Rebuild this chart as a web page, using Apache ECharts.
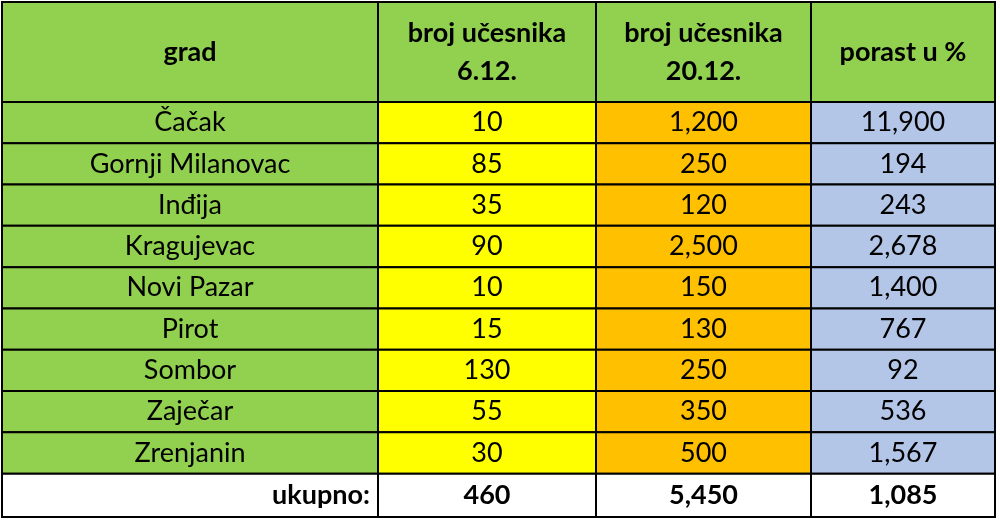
<!DOCTYPE html>
<html lang="sr">
<head>
<meta charset="UTF-8">
<title>broj učesnika</title>
<script src="https://cdn.jsdelivr.net/npm/echarts@6/dist/echarts.min.js"></script>
<style>html,body{margin:0;background:#fff}</style>
</head>
<body>
<div id="main" style="width:1000px;height:524px;"></div>
<script>
// podaci
var headers = ['grad', 'broj učesnika\n6.12.', 'broj učesnika\n20.12.', 'porast u %'];
var cities = ['Čačak', 'Gornji Milanovac', 'Inđija', 'Kragujevac', 'Novi Pazar', 'Pirot', 'Sombor', 'Zaječar', 'Zrenjanin'];
var before = [10, 85, 35, 90, 10, 15, 130, 55, 30];
var after = [1200, 250, 120, 2500, 150, 130, 250, 350, 500];
var growth = [11900, 194, 243, 2678, 1400, 767, 92, 536, 1567];
var totals = ['ukupno:', 460, 5450, 1085];

// raspored
var colEdges = [0, 376, 594, 809, 993];
var headerH = 2.42;
var colColors = ['#92d050', '#ffff00', '#ffc000', '#b4c6e7'];

function fmt(v) { return typeof v === 'number' ? v.toLocaleString('en-US') : v; }

var cells = [];
headers.forEach(function (h, c) {
    cells.push([c, 0, headerH, h, '#92d050', 'bold', 'center']);
});
cities.forEach(function (name, r) {
    var y0 = headerH + r;
    [name, before[r], after[r], growth[r]].forEach(function (v, c) {
        cells.push([c, y0, y0 + 1, fmt(v), colColors[c], 'normal', 'center']);
    });
});
var yt = headerH + cities.length;
totals.forEach(function (v, c) {
    cells.push([c, yt, yt + 1.05, fmt(v), '#ffffff', 'bold', c === 0 ? 'right' : 'center']);
});

var chart = echarts.init(document.getElementById('main'));
chart.setOption({
    animation: false,
    grid: { left: 2, right: 5, top: 2, bottom: 7 },
    xAxis: { type: 'value', min: 0, max: 993, show: false },
    yAxis: { type: 'value', min: 0, max: yt + 1.05, inverse: true, show: false },
    series: [{
        type: 'custom',
        data: cells,
        renderItem: function (params, api) {
            var c = api.value(0);
            var p0 = api.coord([colEdges[c], api.value(1)]);
            var p1 = api.coord([colEdges[c + 1], api.value(2)]);
            var d = cells[params.dataIndex];
            var align = d[6];
            var tx = align === 'right' ? p1[0] - 8 : (p0[0] + p1[0]) / 2;
            return {
                type: 'group',
                children: [{
                    type: 'rect',
                    shape: { x: p0[0], y: p0[1], width: p1[0] - p0[0], height: p1[1] - p0[1] },
                    style: { fill: d[4], stroke: '#000', lineWidth: 2 }
                }, {
                    type: 'text',
                    style: {
                        x: tx, y: (p0[1] + p1[1]) / 2,
                        text: d[3], align: align, verticalAlign: 'middle',
                        font: d[5] + ' 27px Lato, "Noto Sans", sans-serif',
                        lineHeight: 38, fill: '#000'
                    }
                }]
            };
        }
    }]
});
</script>
</body>
</html>
